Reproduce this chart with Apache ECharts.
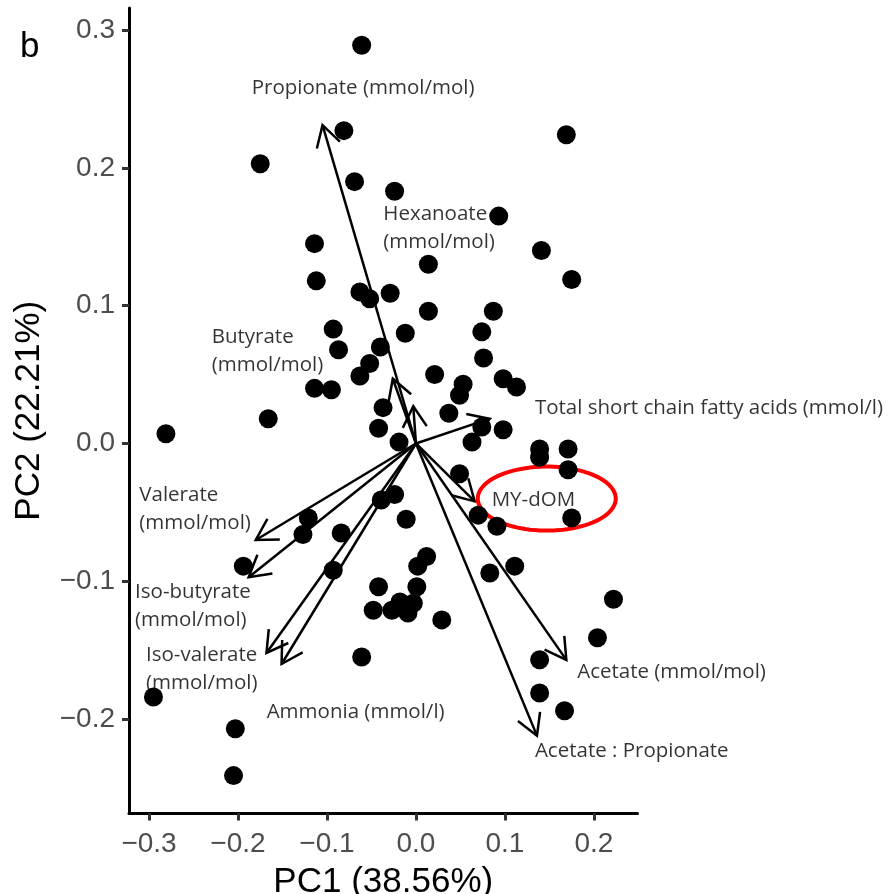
<!DOCTYPE html>
<html>
<head>
<meta charset="utf-8">
<script src="https://cdn.jsdelivr.net/npm/echarts@6/dist/echarts.min.js"></script>
<style>
  html, body { margin: 0; padding: 0; background: #fff; overflow: hidden; }
  #Chart { width: 889px; height: 894px; }
</style>
</head>
<body>
<div id="Chart"></div>
<script>
// sample scores [PC1, PC2]
const scores = [
  [-0.061, 0.289], [-0.081, 0.227], [-0.175, 0.203], [-0.069, 0.190], [-0.024, 0.183],
  [0.169, 0.224], [0.093, 0.165], [-0.114, 0.145], [0.141, 0.140], [0.014, 0.130],
  [-0.112, 0.118], [0.175, 0.119], [-0.063, 0.110], [-0.052, 0.105], [-0.029, 0.109],
  [0.014, 0.096], [0.087, 0.096], [-0.093, 0.083], [-0.087, 0.068], [-0.040, 0.070],
  [-0.012, 0.080], [0.074, 0.081], [-0.052, 0.058], [-0.063, 0.049], [0.021, 0.050],
  [0.076, 0.062], [-0.114, 0.040], [-0.095, 0.039], [-0.166, 0.018], [0.053, 0.043],
  [0.049, 0.035], [0.098, 0.047], [0.113, 0.041], [-0.037, 0.026], [-0.042, 0.011],
  [-0.019, 0.001], [0.037, 0.022], [0.074, 0.012], [0.063, 0.001], [0.098, 0.010],
  [0.139, -0.004], [0.139, -0.010], [0.171, -0.004], [0.171, -0.019], [0.049, -0.022],
  [0.175, -0.054], [0.070, -0.052], [0.091, -0.060], [0.083, -0.094], [0.111, -0.089],
  [-0.281, 0.007], [-0.121, -0.054], [-0.127, -0.066], [-0.084, -0.065], [-0.194, -0.089],
  [-0.093, -0.092], [-0.039, -0.041], [-0.024, -0.037], [-0.011, -0.055], [0.012, -0.082],
  [0.002, -0.089], [-0.042, -0.104], [0.001, -0.104], [-0.048, -0.121], [-0.027, -0.121],
  [-0.018, -0.115], [-0.009, -0.123], [-0.003, -0.116], [0.029, -0.128], [-0.061, -0.155],
  [-0.295, -0.184], [-0.203, -0.207], [-0.205, -0.241], [0.222, -0.113], [0.204, -0.141],
  [0.139, -0.157], [0.139, -0.181], [0.167, -0.194]
]

// variable loadings (arrow tips)
const variables = [
  "Propionate", "Hexanoate", "Butyrate", "Total SCFA", "MY-dOM", "Valerate",
  "Iso-butyrate", "Iso-valerate", "Ammonia", "Acetate", "Acetate:Propionate"
]
const loadings = [
  [-0.105, 0.231], [-0.003, 0.027], [-0.026, 0.047], [0.083, 0.018], [0.066, -0.042],
  [-0.180, -0.070], [-0.188, -0.097], [-0.168, -0.152], [-0.151, -0.160], [0.169, -0.157],
  [0.136, -0.212]
]

// arrow labels and where they sit (left edge, vertical middle)
const labelTexts = [
  "Propionate (mmol/mol)", "Hexanoate\n(mmol/mol)", "Butyrate\n(mmol/mol)",
  "Total short chain fatty acids (mmol/l)", "MY-dOM", "Valerate\n(mmol/mol)",
  "Iso-butyrate\n(mmol/mol)", "Iso-valerate\n(mmol/mol)", "Ammonia (mmol/l)",
  "Acetate (mmol/mol)", "Acetate : Propionate"
]
const labelAnchors = [
  [-0.1846, 0.2578], [-0.0367, 0.1562], [-0.2296, 0.0673], [0.1337, 0.0255],
  [0.0851, -0.0410], [-0.3109, -0.0477], [-0.3157, -0.1178], [-0.3034, -0.1638],
  [-0.1678, -0.1946], [0.1812, -0.1656], [0.1337, -0.2229]
]

// highlighted variable
const highlight = [[0.147, -0.040]]

const xTicks = [-0.3, -0.2, -0.1, 0.0, 0.1, 0.2]
const yTicks = [-0.2, -0.1, 0.0, 0.1, 0.2, 0.3]

const fmt = v => (v < 0 ? "\u2212" : "") + Math.abs(v).toFixed(1)
const axisFont = "'Liberation Sans', Arial, sans-serif"
const textFont = "'Open Sans', sans-serif"

const chart = echarts.init(document.getElementById("Chart"), null, { renderer: "canvas" })

const arrow = (params, api) => {
  const o = api.coord([0, 0])
  const t = api.coord([api.value(0), api.value(1)])
  const dx = o[0] - t[0]
  const dy = o[1] - t[1]
  const len = Math.sqrt(dx * dx + dy * dy)
  const ux = dx / len
  const uy = dy / len
  const head = 24
  const a = Math.PI / 6
  const b1 = [t[0] + head * (ux * Math.cos(a) - uy * Math.sin(a)), t[1] + head * (ux * Math.sin(a) + uy * Math.cos(a))]
  const b2 = [t[0] + head * (ux * Math.cos(-a) - uy * Math.sin(-a)), t[1] + head * (ux * Math.sin(-a) + uy * Math.cos(-a))]
  const style = { stroke: "#000", lineWidth: 2.5, fill: null }
  return {
    type: "group",
    children: [
      { type: "line", shape: { x1: o[0], y1: o[1], x2: t[0], y2: t[1] }, style },
      { type: "polyline", shape: { points: [b1, t, b2] }, style }
    ]
  }
}

const ellipse = (params, api) => {
  const c = api.coord([api.value(0), api.value(1)])
  const pts = []
  for (let i = 0; i < 90; i++) {
    const th = i / 90 * Math.PI * 2
    pts.push([c[0] + 69 * Math.cos(th), c[1] + 32 * Math.sin(th)])
  }
  return { type: "polygon", shape: { points: pts }, style: { stroke: "#ff0000", lineWidth: 4, fill: null } }
}

let option = {
  animation: false,
  backgroundColor: "#fff",
  grid: { left: 129, top: 8, width: 508.5, height: 805.5, containLabel: false, outerBoundsMode: "none" },
  xAxis: {
    type: "value",
    min: -0.3225,
    max: 0.249,
    name: "PC1 (38.56%)",
    nameLocation: "middle",
    nameGap: 51,
    nameTextStyle: { fontSize: 35, color: "#000", fontFamily: axisFont },
    axisLine: { show: true, onZero: false, lineStyle: { color: "#000", width: 3 } },
    axisTick: { show: true, length: 7, customValues: xTicks, lineStyle: { color: "#333", width: 3 } },
    axisLabel: { customValues: xTicks, formatter: fmt, fontSize: 28, color: "#4d4d4d", fontFamily: axisFont, margin: 17 },
    splitLine: { show: false }
  },
  yAxis: {
    type: "value",
    min: -0.2685,
    max: 0.316,
    name: "PC2 (22.21%)",
    nameLocation: "middle",
    nameGap: 82,
    nameTextStyle: { fontSize: 35, color: "#000", fontFamily: axisFont },
    axisLine: { show: true, onZero: false, lineStyle: { color: "#000", width: 3 } },
    axisTick: { show: true, length: 7, customValues: yTicks, lineStyle: { color: "#333", width: 3 } },
    axisLabel: { customValues: yTicks, formatter: fmt, fontSize: 28, color: "#4d4d4d", fontFamily: axisFont, margin: 14 },
    splitLine: { show: false }
  },
  graphic: [
    { type: "text", left: 20, top: 30, style: { text: "b", fontSize: 35, fill: "#000", fontFamily: axisFont } }
  ],
  series: [
    {
      name: "samples",
      type: "scatter",
      symbolSize: 19,
      clip: false,
      itemStyle: { color: "#000", opacity: 1 },
      data: scores
    },
    {
      name: "loadings",
      type: "custom",
      clip: false,
      renderItem: arrow,
      data: loadings.map((v, i) => ({ name: variables[i], value: v }))
    },
    {
      name: "labels",
      type: "scatter",
      symbolSize: 0,
      clip: false,
      silent: true,
      label: {
        show: true,
        position: "right",
        distance: 0,
        align: "left",
        verticalAlign: "middle",
        formatter: p => p.name,
        fontSize: 20.5,
        lineHeight: 28,
        color: "#000",
        fontFamily: textFont
      },
      data: labelTexts.map((n, i) => ({ name: n, value: labelAnchors[i] }))
    },
    {
      name: "highlight",
      type: "custom",
      clip: false,
      renderItem: ellipse,
      data: highlight
    }
  ]
}

chart.setOption(option)
</script>
</body>
</html>
